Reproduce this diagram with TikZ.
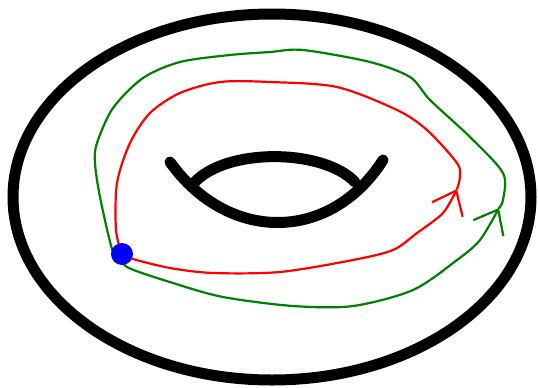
\documentclass[tikz,border=0pt]{standalone}
\usepackage{tikz}
\usetikzlibrary{arrows.meta,calc}
\definecolor{ink}    {HTML}{000000}
\definecolor{loopa}  {HTML}{FF0000}
\definecolor{loopb}  {HTML}{008000}
\definecolor{basept} {HTML}{0000FF}
\tikzset{
  % --- surface
  rim/.style  = {draw=ink, line width=11pt},
  hole/.style = {draw=ink, line width=11pt, line cap=round},
  % --- loops
  lp/.style   = {line width=2.2pt, line join=round, line cap=round},
  la/.style   = {lp, draw=loopa},
  lb/.style   = {lp, draw=loopb},
  barb/.style = {-{Straight Barb[length=21pt,width=34pt,line width=2.2pt]}},
  dot/.style  = {circle, fill=basept, minimum size=22pt, inner sep=0pt},
}
\begin{document}
\begin{tikzpicture}[x=1pt,y=-1pt]
  \useasboundingbox (0,0) rectangle (538,388);
  \coordinate (p) at (122,254);
  % torus
  \draw[rim] (272,197) ellipse [x radius=259pt, y radius=183pt];
  \draw[hole] (170,162) .. controls (228,243) and (330,243) .. (383,160);
  \draw[hole] (194,183) .. controls (225,148) and (322,148) .. (355,182);
  % red loop
  \draw[la, barb] plot[smooth] coordinates {(p) (133,259) (170,268) (213,273)
     (280,272) (353,260) (393,250) (417,233) (443,213) (457,189)};
  \draw[la] plot[smooth] coordinates {(457,189) (460,177) (457,163) (427,130)
     (397,110) (337,87) (270,82) (220,82) (180,93) (150,113) (130,143)
     (117,183) (116,230) (p)};
  % green loop
  \draw[lb, barb] plot[smooth] coordinates {(p) (127,267) (173,283) (223,297)
     (293,306) (353,306) (413,290) (457,260) (480,240) (499,208)};
  \draw[lb] plot[smooth] coordinates {(499,208) (503,200) (503,173) (470,137)
     (430,100) (410,77) (370,62) (303,50) (270,52) (230,55) (180,62) (143,78)
     (113,108) (97,143) (95,163) (100,197) (113,252) (p)};
  \node[dot] (base) at (p) {};
\end{tikzpicture}
\end{document}
